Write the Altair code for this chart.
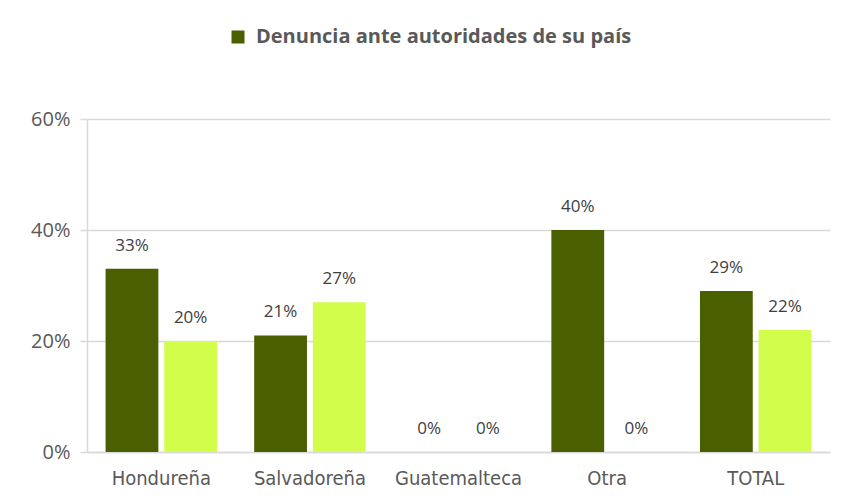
import altair as alt
import pandas as pd

categories = ["Hondureña", "Salvadoreña", "Guatemalteca", "Otra", "TOTAL"]
series = ["Denuncia ante autoridades de su país", "Denuncia ante otras autoridades"]
values_pais = [0.33, 0.21, 0.0, 0.40, 0.29]
values_otras = [0.20, 0.27, 0.0, 0.0, 0.22]
colors = ["#4a5f00", "#d2fd4b"]

rows = []
for c, a, b in zip(categories, values_pais, values_otras):
    rows.append({"categoria": c, "serie": series[0], "valor": a})
    rows.append({"categoria": c, "serie": series[1], "valor": b})
df = pd.DataFrame(rows)

base = alt.Chart(df).encode(
    x=alt.X(
        "categoria:N",
        sort=categories,
        title=None,
        scale=alt.Scale(paddingInner=0.25, paddingOuter=0.125),
        axis=alt.Axis(
            labelAngle=0,
            ticks=False,
            labelFont="'DejaVu Sans Condensed', Roboto, sans-serif",
            labelFontSize=20,
            labelColor="#595959",
            labelPadding=16,
            domainColor="#d9d9d9",
            domainWidth=1.5,
        ),
    ),
    xOffset=alt.XOffset("serie:N", sort=series, scale=alt.Scale(paddingInner=0.1)),
    y=alt.Y(
        "valor:Q",
        title=None,
        scale=alt.Scale(domain=[0, 0.6], nice=False),
        axis=alt.Axis(
            values=[0, 0.2, 0.4, 0.6],
            format=".0%",
            labelFont="Open Sans",
            labelFontSize=20,
            labelColor="#595959",
            labelPadding=10,
            tickSize=7,
            tickColor="#d9d9d9",
            gridColor="#d9d9d9",
            domainColor="#d9d9d9",
            domainWidth=1.5,
            tickWidth=1.5,
            gridWidth=1.5,
        ),
    ),
)

bars = base.mark_bar().encode(
    color=alt.Color(
        "serie:N",
        scale=alt.Scale(domain=series, range=colors),
        legend=alt.Legend(
            values=[series[0]],
            title=None,
            orient="none",
            legendX=141,
            legendY=-92,
            symbolType="square",
            symbolSize=169,
            symbolStrokeWidth=0,
            labelFont="Open Sans",
            labelFontWeight="bold",
            labelFontSize=20,
            labelColor="#595959",
            labelOffset=8,
            labelLimit=600,
            padding=0,
        ),
    )
)

labels = base.mark_text(
    dy=-18, baseline="alphabetic", font="Open Sans", fontSize=17, color="#404040"
).encode(text=alt.Text("valor:Q", format=".0%"))

chart = (
    alt.layer(bars, labels)
    .properties(
        width=743,
        height=333,
        autosize=alt.AutoSizeParams(type="none"),
        padding={"left": 79, "top": 111, "right": 10, "bottom": 40},
    )
    .configure_view(stroke=None)
)

chart.save("out.html", embed_options={"renderer": "svg", "actions": False})
